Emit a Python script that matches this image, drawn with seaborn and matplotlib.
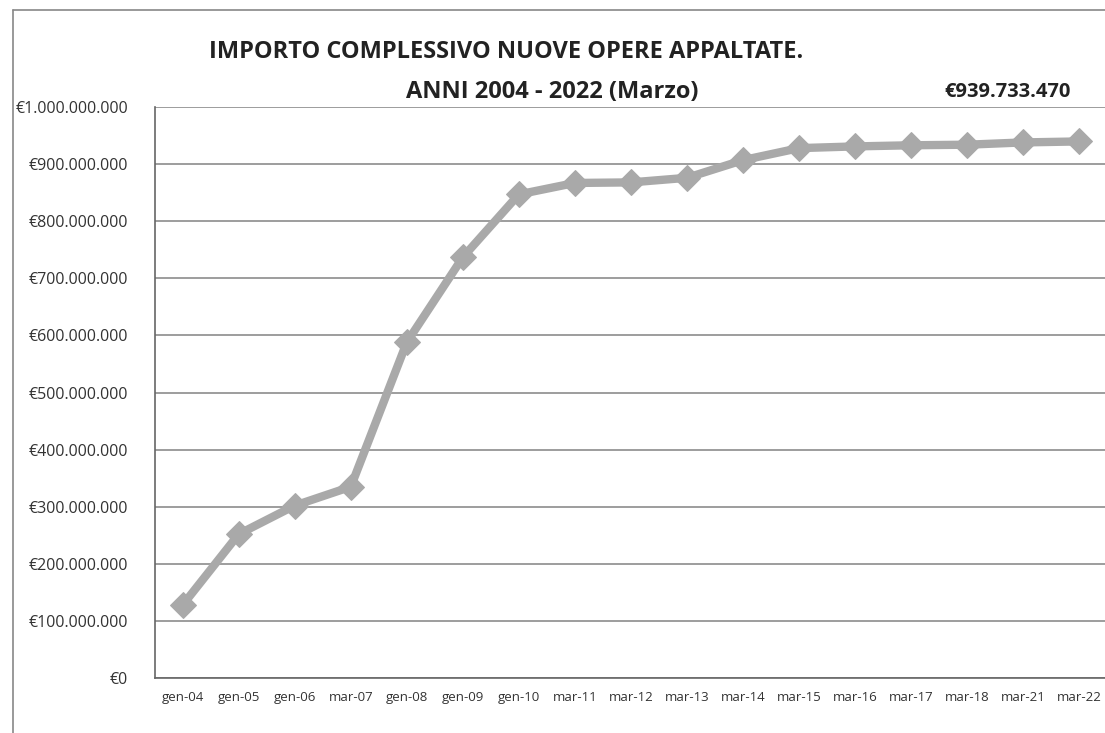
import seaborn as sns
import pandas as pd
import matplotlib.pyplot as plt
from matplotlib.ticker import FuncFormatter, MultipleLocator
from matplotlib.lines import Line2D

# period labels and cumulative amount (euro)
periods = ["gen-04", "gen-05", "gen-06", "mar-07", "gen-08", "gen-09", "gen-10",
           "mar-11", "mar-12", "mar-13", "mar-14", "mar-15", "mar-16", "mar-17",
           "mar-18", "mar-21", "mar-22"]
amounts = [128e6, 252e6, 302e6, 335e6, 588e6, 737e6, 847e6,
           867e6, 868e6, 876e6, 907e6, 928e6, 931e6, 933e6,
           934e6, 938e6, 939733470]
total_label = "€939.733.470"

df = pd.DataFrame({"periodo": periods, "importo": amounts})

sns.set_style("white")
plt.rcParams["font.family"] = ["Open Sans", "DejaVu Sans"]

fig = plt.figure(figsize=(11.05, 7.33), dpi=100)
ax = fig.add_axes([0.140, 0.075, 0.862, 0.779])

sns.lineplot(
    data=df, x="periodo", y="importo", ax=ax,
    color="#a9a9a9", linewidth=6,
    marker="D", markersize=13, markeredgecolor="#a9a9a9",
    sort=False,
)

ax.set_ylim(0, 1e9)
ax.set_xlim(-0.5, len(periods) - 0.5)
ax.yaxis.set_major_locator(MultipleLocator(1e8))
ax.yaxis.set_major_formatter(
    FuncFormatter(lambda v, _: "€" + f"{v:,.0f}".replace(",", ".")))
ax.grid(axis="y", color="#8c8c8c", linewidth=1.2)
ax.set_axisbelow(True)

ax.tick_params(axis="y", labelsize=11.5, length=0, pad=19, colors="#333333")
ax.tick_params(axis="x", labelsize=9.5, length=0, pad=9, colors="#333333")
ax.set_xlabel("")
ax.set_ylabel("")

for side in ["top", "right"]:
    ax.spines[side].set_visible(False)
for side in ["left", "bottom"]:
    ax.spines[side].set_color("#666666")
    ax.spines[side].set_linewidth(1.2)

# Title
fig.text(0.458, 0.929, "IMPORTO COMPLESSIVO NUOVE OPERE APPALTATE.",
         ha="center", va="center", fontsize=17, fontweight="bold", color="#222222")
fig.text(0.500, 0.875, "ANNI 2004 - 2022 (Marzo)",
         ha="center", va="center", fontsize=17, fontweight="bold", color="#222222")
fig.text(0.912, 0.875, total_label,
         ha="center", va="center", fontsize=14.5, fontweight="bold", color="#222222")

# outer chart border of the scanned page
fig.add_artist(Line2D([0.012, 0.012], [0.0, 0.986], color="#888888", linewidth=1.2))
fig.add_artist(Line2D([0.012, 1.0], [0.986, 0.986], color="#888888", linewidth=1.2))

plt.savefig("out.png", dpi=100)
